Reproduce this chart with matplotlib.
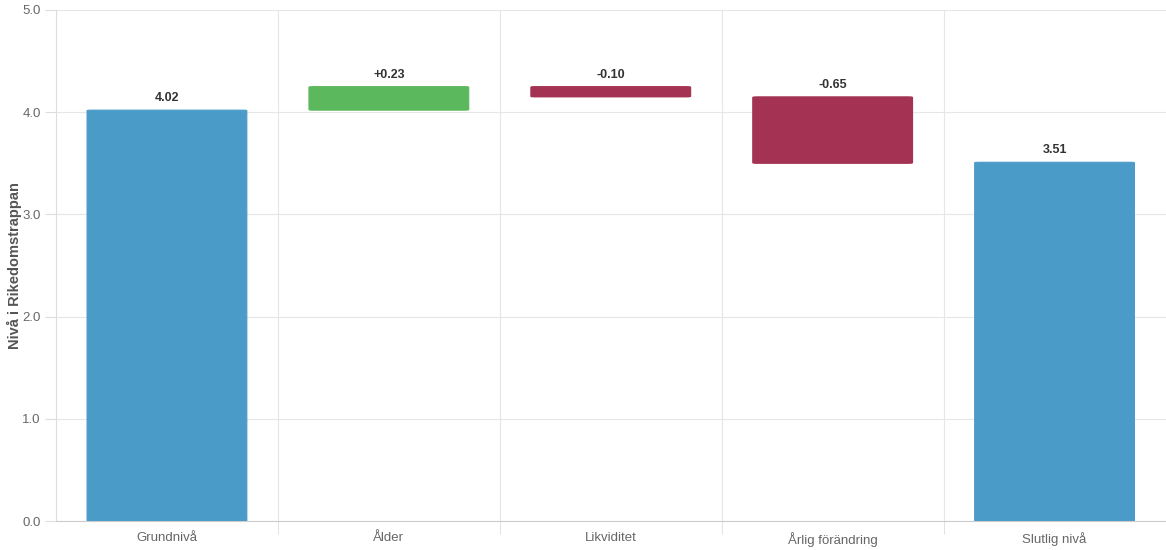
import matplotlib
matplotlib.use("Agg")
import matplotlib.pyplot as plt
from matplotlib.patches import FancyBboxPatch

plt.rcParams['font.family'] = ['Liberation Sans', 'DejaVu Sans']

# data
categories = ["Grundnivå", "Ålder", "Likviditet", "Årlig förändring", "Slutlig nivå"]
start_level = 4.02
changes = [0.23, -0.10, -0.65]
final_level = 3.51

blue = "#4a9bc8"
green = "#5cb85c"
red = "#a33253"

# build floating bars
bottoms = [0.0]
tops = [start_level]
colors = [blue]
labels = [f"{start_level:.2f}"]
level = start_level
for ch in changes:
    new = level + ch
    bottoms.append(min(level, new))
    tops.append(max(level, new))
    colors.append(green if ch >= 0 else red)
    labels.append(f"{ch:+.2f}")
    level = new
bottoms.append(0.0)
tops.append(final_level)
colors.append(blue)
labels.append(f"{final_level:.2f}")

fig = plt.figure(figsize=(11.66, 5.5), dpi=100)
ax = fig.add_axes([56 / 1166, 29 / 550, 1 - 56 / 1166 - 0.5 / 1166, 511 / 550])

width = 0.72
for i, (b, t, c) in enumerate(zip(bottoms, tops, colors)):
    patch = FancyBboxPatch((i - width / 2, b), width, t - b,
                           boxstyle="round,pad=0,rounding_size=0.02",
                           mutation_aspect=1 / 0.45 * 0.1,
                           facecolor=c, edgecolor=c, linewidth=0.8, zorder=3)
    ax.add_patch(patch)
    # square off the bottom
    ax.bar(i, min(0.05, t - b), bottom=b, width=width, color=c, zorder=3,
           linewidth=0)
    ax.text(i, t + 0.06, labels[i], ha="center", va="bottom",
            fontsize=9, fontweight="bold", color="#333333")

ax.set_xlim(-0.5, len(categories) - 0.5)
ax.set_ylim(0, 5)
ax.set_yticks([0, 1, 2, 3, 4, 5])
ax.set_yticklabels([f"{v:.1f}" for v in [0, 1, 2, 3, 4, 5]])
ax.set_xticks(range(len(categories)))
ax.set_xticklabels(categories)
ax.set_xticks([i + 0.5 for i in range(len(categories) - 1)], minor=True)

ax.tick_params(axis="y", length=8, color="#dddddd", labelsize=9.5,
               labelcolor="#666666", pad=3)
ax.tick_params(axis="x", which="major", length=0, labelsize=9.5,
               labelcolor="#666666", pad=8)
ax.tick_params(axis="x", which="minor", length=9, color="#dddddd")

ax.grid(axis="y", color="#e6e6e6", linewidth=0.8, zorder=0)
ax.grid(axis="x", which="minor", color="#e6e6e6", linewidth=0.8, zorder=0)
ax.set_axisbelow(True)

for side in ["top", "right"]:
    ax.spines[side].set_visible(False)
ax.spines["left"].set_color("#dddddd")
ax.spines["bottom"].set_color("#cccccc")

ax.set_ylabel("Nivå i Rikedomstrappan", fontsize=10.5, fontweight="bold",
              color="#555555")
ax.yaxis.set_label_coords(-0.031, 0.5)

fig.savefig("out.png", dpi=100)
